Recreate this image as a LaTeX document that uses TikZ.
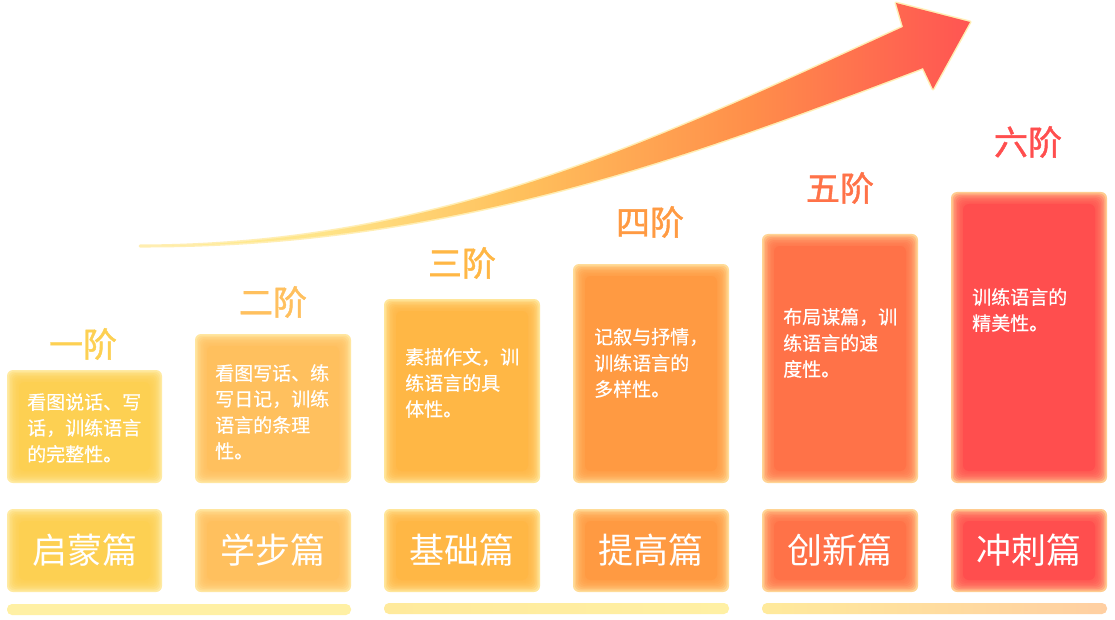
\documentclass[tikz,border=0pt]{standalone}
\usepackage{fontspec}
\setmainfont{Noto Sans CJK SC}
\newfontfamily\stagefont{Noto Sans CJK SC}[FakeBold=1.2]
\newfontfamily\bodyfont{Noto Sans CJK SC}[FakeBold=0.4]
\usetikzlibrary{calc}
\definecolor{cA}{HTML}{FDD052}\definecolor{eA}{HTML}{FFEAA2}
\definecolor{cB}{HTML}{FFC05E}\definecolor{eB}{HTML}{FFE6A0}
\definecolor{cC}{HTML}{FFB745}\definecolor{eC}{HTML}{FFE69A}
\definecolor{cD}{HTML}{FF9A42}\definecolor{eD}{HTML}{FFDC98}
\definecolor{cE}{HTML}{FF7248}\definecolor{eE}{HTML}{FFD494}
\definecolor{cF}{HTML}{FF4E4E}\definecolor{eF}{HTML}{FFCC90}
\definecolor{arA}{HTML}{FFF09A}\definecolor{arB}{HTML}{FFE488}
\definecolor{arC}{HTML}{FFC05C}\definecolor{arD}{HTML}{FF8F4A}
\definecolor{arE}{HTML}{FF6650}\definecolor{arF}{HTML}{FF5552}
\definecolor{barA}{HTML}{FFF0A4}\definecolor{barB}{HTML}{FFEA9C}
\definecolor{barC}{HTML}{FFCFA2}
\pgfdeclarehorizontalshading{arrowshade}{100bp}{color(0bp)=(arA); color(25bp)=(arA); color(36bp)=(arB); color(48bp)=(arC); color(61.6bp)=(arD); color(70.8bp)=(arE); color(75bp)=(arF); color(100bp)=(arF)}
\newcommand\glowbox[6]{%
  \fill[#6, rounded corners=6pt] ({#1},{#2}) rectangle ({#3},{#4});
  \foreach \k in {1,...,8} {
    \fill[#5, opacity=0.27, rounded corners=6pt] ({#1+1.5*\k},{#2+1.5*\k}) rectangle ({#3-1.5*\k},{#4-1.5*\k});
  }
  \fill[#5, rounded corners=6pt] ({#1+12},{#2+12}) rectangle ({#3-12},{#4-12});
}
\tikzset{
  stagelbl/.style={inner sep=0, font=\stagefont\fontsize{34}{34}\selectfont},
  bodytxt/.style={anchor=west, inner sep=0, text=white, font=\bodyfont\fontsize{19}{22}\selectfont},
  parttxt/.style={inner sep=0, text=white, font=\fontsize{35}{35}\selectfont},
}
\newcommand\bodylines[4]{%
  \foreach \t [count=\i] in {#4} {
    \node[bodytxt] (#1-\i) at ({#2},{#3+26*(\i-1)}) {\t};
  }
}
\begin{document}
\begin{tikzpicture}[x=1pt,y=-1pt]
\useasboundingbox (0,0) rectangle (1115,620);
\fill[white] (0,0) rectangle (1115,620);

% arrow
\draw[eA, line width=3pt, opacity=0.8, line join=round]
  (140,246) .. controls (442,245) and (653,141) .. (903,27) -- (896,3) -- (970,22) -- (933,89) -- (923,68) .. controls (673,163) and (442,247) .. (140,246) -- cycle;
\shade[shading=arrowshade]
  (140,246) .. controls (442,245) and (653,141) .. (903,27) -- (896,3) -- (970,22) -- (933,89) -- (923,68) .. controls (673,163) and (442,247) .. (140,246) -- cycle;

% upper boxes
\glowbox{7}{370}{162}{483}{cA}{eA}
\glowbox{195}{334}{351}{483}{cB}{eB}
\glowbox{384}{299}{540}{483}{cC}{eC}
\glowbox{573}{264}{729}{483}{cD}{eD}
\glowbox{762}{234}{918}{483}{cE}{eE}
\glowbox{951}{192}{1107}{483}{cF}{eF}

% lower boxes
\glowbox{7}{509}{162}{592}{cA}{eA}
\glowbox{195}{509}{351}{592}{cB}{eB}
\glowbox{384}{509}{540}{592}{cC}{eC}
\glowbox{573}{509}{729}{592}{cD}{eD}
\glowbox{762}{509}{918}{592}{cE}{eE}
\glowbox{951}{509}{1107}{592}{cF}{eF}

% bottom bars
\shade[left color=barA, right color=barA, rounded corners=5pt] (7,604) rectangle (351,615);
\shade[left color=barB, right color=barA, rounded corners=5pt] (384,603) rectangle (729,614);
\shade[left color=barB, right color=barC, rounded corners=5pt] (762,603) rectangle (1107,614);

% stage labels
\node[stagelbl, text=cA] (s1) at (83,344) {一阶};
\node[stagelbl, text=cB] (s2) at (273,302) {二阶};
\node[stagelbl, text=cC] (s3) at (462,263) {三阶};
\node[stagelbl, text=cD] (s4) at (650,222) {四阶};
\node[stagelbl, text=cE] (s5) at (840,188) {五阶};
\node[stagelbl, text=cF] (s6) at (1028,142) {六阶};

% body texts
\bodylines{b1}{27}{402}{看图说话、写,话，训练语言,的完整性。}
\bodylines{b2}{215}{373}{看图写话、练,写日记，训练,语言的条理,性。}
\bodylines{b3}{405}{357}{素描作文，训,练语言的具,体性。}
\bodylines{b4}{594}{337}{记叙与抒情，,训练语言的,多样性。}
\bodylines{b5}{783}{317}{布局谋篇，训,练语言的速,度性。}
\bodylines{b6}{972}{297}{训练语言的,精美性。}

% part labels
\node[parttxt] (p1) at (84.5,550) {启蒙篇};
\node[parttxt] (p2) at (273,550) {学步篇};
\node[parttxt] (p3) at (462,550) {基础篇};
\node[parttxt] (p4) at (651,550) {提高篇};
\node[parttxt] (p5) at (840,550) {创新篇};
\node[parttxt] (p6) at (1029,550) {冲刺篇};
\end{tikzpicture}
\end{document}
